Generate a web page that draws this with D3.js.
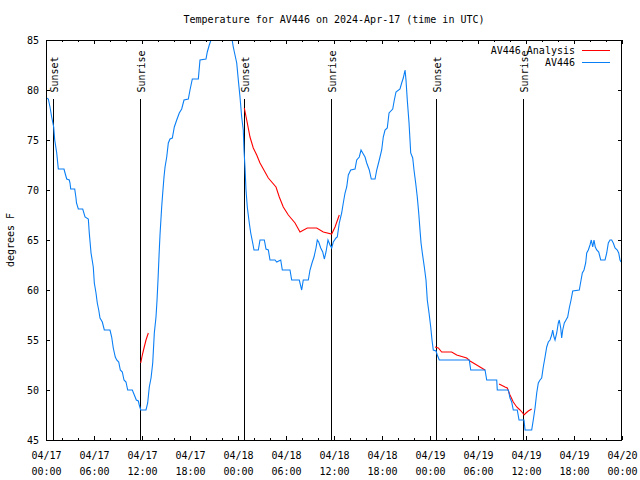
<!DOCTYPE html>
<html><head><meta charset="utf-8">
<script src="https://cdn.jsdelivr.net/npm/d3@7"></script>
<style>
body{margin:0;background:#fff}
svg text{font-family:"DejaVu Sans Mono","Liberation Mono",monospace;font-size:10px;fill:#000}
</style>
</head><body>
<svg id="chart" width="640" height="480"></svg>
<script>
// ---------- data ----------
const chartTitle = "Temperature for AV446 on 2024-Apr-17 (time in UTC)";
const yAxisLabel = "degrees F";
const startUTC = Date.UTC(2024, 3, 17, 0, 0);   // 04/17 00:00 UTC
const spanHours = 72;

// AV446 observations: hours since start, degrees F
const obsHours = [0.06,0.29,0.5,0.71,0.96,1.09,1.34,1.54,2.25,2.38,2.59,2.91,3.0,3.09,3.59,3.75,3.81,4.04,4.59,4.88,5.29,5.41,5.63,5.91,6.04,6.25,6.41,6.59,6.75,7.04,7.29,8.0,8.21,8.41,8.66,8.84,9.09,9.29,9.54,9.75,10.0,10.21,10.79,11.04,11.29,11.54,11.66,11.84,12.5,12.71,12.91,13.13,13.34,13.54,13.75,13.88,14.0,14.16,14.25,14.46,14.59,14.75,14.88,15.09,15.29,15.5,15.79,16.04,16.34,16.66,16.96,17.25,17.79,18.0,18.29,19.04,19.25,20.0,20.16,20.41,20.71,21.25,22.0,22.75,23.21,23.41,23.84,24.04,24.25,24.46,24.66,24.75,24.88,25.0,25.16,25.41,25.59,25.84,26.0,26.54,26.75,27.29,27.5,27.79,28.0,28.63,28.84,29.34,29.54,30.5,30.71,31.66,31.96,32.16,32.79,33.0,33.25,33.5,33.75,33.91,34.09,34.34,34.59,34.79,35.0,35.25,35.5,35.71,35.91,36.25,36.41,36.66,36.96,37.16,37.38,37.59,37.79,38.09,38.63,38.84,39.16,39.38,39.59,39.88,40.09,40.41,40.66,41.13,41.34,41.66,41.96,42.16,42.38,42.66,42.88,43.34,43.54,43.75,44.25,44.46,44.66,44.88,45.0,45.16,45.38,45.5,45.59,45.84,46.0,46.21,46.41,46.59,46.75,46.88,47.04,47.29,47.5,47.66,47.88,48.09,48.25,48.41,48.75,48.91,49.16,52.91,53.09,54.88,55.09,56.34,56.41,57.79,58.0,58.21,58.41,58.91,59.13,59.75,59.88,60.71,60.91,61.13,61.34,61.54,61.75,61.96,62.16,62.38,62.59,62.79,63.0,63.21,63.34,63.5,63.63,63.84,64.04,64.16,64.34,64.46,64.59,64.79,65.0,65.21,65.41,65.63,65.84,66.66,66.84,67.04,67.25,67.46,67.59,67.79,68.0,68.16,68.34,68.5,68.66,68.84,69.09,69.34,69.88,70.09,70.29,70.5,70.71,70.91,71.13,71.41,71.59,71.75,71.88];
const obsTemps = [79.2,79.1,78.3,77.3,76.3,75,73.7,72.1,72.1,71.7,71.1,71,70.7,70.1,70.1,69.2,68.7,68.1,68.1,67.3,67.1,65.7,63.7,62.3,60.7,59.7,58.7,58,57.2,56.8,56,56,55.3,54.2,53.3,53,52.8,52,51.8,51,50.8,50,50,49.5,49,48.9,48.5,48,48,48.7,50.3,51.2,52.7,55.7,57.3,59,61,64,65.5,68.3,69.7,71.3,72.3,73.3,74.7,75.1,75.2,76.3,77,77.7,78.1,79,79.1,80,81.1,81.1,83,83.1,83.8,84.5,85.2,86.2,86.6,86.2,85.3,84.3,82.7,81,79.3,77.3,76,74,72.2,70,68.3,66.7,65.7,64.7,64,64,65,65,64.1,64,63,63,62.8,63,62,62,61,61,60,61,61,62,62.7,63.3,64.2,65,64.8,64.2,63.8,63.1,63.8,65,64.5,64.2,64.8,65.2,65.3,66.7,67.7,68.7,69.7,70.3,71.5,72,72.1,73,73.3,74,73.7,73.3,72.7,72,71.1,71.1,72,73,74,75.3,76,76.2,77.7,78.1,79,79.8,80.1,80.7,81.2,82,81,79,76.7,75,73.7,73.2,72,70.7,69.3,67.7,66,64.7,63.7,62.3,61,59,57.7,56.3,55,54,53.9,53.5,53,53,52,52,51,51,50,50,49.2,48.8,48,48,47,47,46,46,47,48.2,49.7,50.7,51,51.2,52.3,53.3,54.3,54.8,55,55.5,56,55.3,55,55.7,56.7,57,56.2,55.2,56,56.7,57,57.3,58.2,59,59.9,60,60.8,61.7,62,62.7,63.7,64,64.5,65,64.3,65,64.3,64,63.8,63,63,63.7,64.7,65,65,64.7,64.2,64,63.7,63,62.8];

// AV446 Analysis: hours since start, degrees F (null = gap)
const anaHours = [11.84,12.04,12.25,12.5,12.79,null,24.79,25.09,25.5,25.91,26.34,26.75,27.79,28.75,29.16,29.66,30.29,31.13,31.75,32.66,33.84,34.66,35.71,36.13,36.66,null,48.63,49.04,49.46,50.71,51.34,52.59,53.0,53.63,54.25,54.88,null,56.63,57.38,57.66,58.0,58.41,58.84,59.25,59.59,59.75,60.0,60.29,60.71];
const anaTemps = [52.7,53.5,54.2,55,55.7,null,78.2,77,75.3,74.2,73.5,72.7,71.2,70.3,69.3,68.3,67.5,66.7,65.8,66.2,66.2,65.8,65.6,66.3,67.5,null,54.3,54.2,53.8,53.8,53.5,53.2,52.9,52.6,52.3,52,null,50.6,50.3,50.2,49.5,48.8,48.3,48,47.7,47.5,47.7,47.9,48.1];

// Sun events
const sunHours  = [0.91, 11.81, 24.79, 35.66, 48.75, 59.66];
const sunLabels = ["Sunset","Sunrise","Sunset","Sunrise","Sunset","Sunrise"];

// Ticks
const yTicks = [45,50,55,60,65,70,75,80,85];
const xMajorHours = [0,6,12,18,24,30,36,42,48,54,60,66,72];
const xMinorHours = [2,4,8,10,14,16,20,22,26,28,32,34,38,40,44,46,50,52,56,58,62,64,68,70];

const seriesNames = ["AV446 Analysis","AV446"];
const seriesColors = ["#ff0000","#0a7ff5"];

// ---------- layout ----------
const L = 46, R = 622, T = 40, B = 440;
const svg = d3.select("#chart");

const x = d3.scaleLinear().domain([0, spanHours]).range([L, R]);
const y = d3.scaleLinear().domain([45, 85]).range([B, T]);

svg.append("defs").append("clipPath").attr("id","plotclip")
  .append("rect").attr("x",L).attr("y",T).attr("width",R-L).attr("height",B-T);

svg.append("text").attr("x", 334).attr("y", 23).attr("text-anchor","middle").text(chartTitle);
svg.append("text").attr("transform","translate(14,240) rotate(-90)").attr("text-anchor","middle").text(yAxisLabel);

const fmtDate = d3.utcFormat("%m/%d"), fmtTime = d3.utcFormat("%H:%M");
const toDate = h => new Date(startUTC + h*3600e3);

function clean(g){
  g.attr("font-family",null).attr("font-size",null);
  g.select(".domain").remove();
  g.selectAll("line").attr("shape-rendering","crispEdges").attr("stroke","#000");
  return g;
}

const gxb = clean(svg.append("g").attr("transform",`translate(0,${B})`)
  .call(d3.axisBottom(x).tickValues(xMajorHours).tickSizeInner(-4).tickSizeOuter(0).tickFormat("")));
gxb.selectAll(".tick text").remove();
gxb.selectAll(".tick").append("text").attr("y", 19).attr("text-anchor","middle")
  .each(function(h){
    const t = d3.select(this);
    t.append("tspan").attr("x",0).text(fmtDate(toDate(h)));
    t.append("tspan").attr("x",0).attr("dy",16).text(fmtTime(toDate(h)));
  });
clean(svg.append("g").attr("transform",`translate(0,${B})`)
  .call(d3.axisBottom(x).tickValues(xMinorHours).tickSizeInner(-2).tickSizeOuter(0).tickFormat("")));
clean(svg.append("g").attr("transform",`translate(0,${T})`)
  .call(d3.axisTop(x).tickValues(xMajorHours).tickSizeInner(-4).tickSizeOuter(0).tickFormat("")));
clean(svg.append("g").attr("transform",`translate(0,${T})`)
  .call(d3.axisTop(x).tickValues(xMinorHours).tickSizeInner(-2).tickSizeOuter(0).tickFormat("")));

const gyl = clean(svg.append("g").attr("transform",`translate(${L},0)`)
  .call(d3.axisLeft(y).tickValues(yTicks).tickSizeInner(-4).tickSizeOuter(0).tickPadding(7)));
gyl.selectAll("text").attr("dy","0.35em");
clean(svg.append("g").attr("transform",`translate(${R},0)`)
  .call(d3.axisRight(y).tickValues(yTicks).tickSizeInner(-4).tickSizeOuter(0).tickFormat("")));

// sun event lines + labels
const sun = svg.append("g");
sunHours.forEach((h,i)=>{
  const xp = Math.round(x(h)) + 0.5;
  sun.append("line").attr("x1",xp).attr("x2",xp).attr("y1",99).attr("y2",B)
    .attr("stroke","#000").attr("stroke-width",1).attr("shape-rendering","crispEdges");
  sun.append("text").attr("transform",`translate(${xp+4.5},92.5) rotate(-90)`)
    .attr("text-anchor","start").text(sunLabels[i]);
});

// data lines
const plot = svg.append("g").attr("clip-path","url(#plotclip)");
const anaData = anaHours.map((h,i)=>({h, t: anaTemps[i]}));
const obsData = obsHours.map((h,i)=>({h, t: obsTemps[i]}));
const line = d3.line().defined(d=>d.h!==null && d.t!==null).x(d=>x(d.h)).y(d=>y(d.t));
plot.append("path").datum(anaData).attr("d",line).attr("fill","none")
  .attr("stroke",seriesColors[0]).attr("stroke-width",1.1);
plot.append("path").datum(obsData).attr("d",line).attr("fill","none")
  .attr("stroke",seriesColors[1]).attr("stroke-width",1.1);

// border
svg.append("rect").attr("x",L+0.5).attr("y",T+0.5).attr("width",R-L-1).attr("height",B-T)
  .attr("fill","none").attr("stroke","#000").attr("shape-rendering","crispEdges");

// legend
const leg = svg.append("g");
seriesNames.forEach((n,i)=>{
  const yy = 50 + i*12;
  leg.append("text").attr("x",575).attr("y",yy+4).attr("text-anchor","end").text(n);
  leg.append("line").attr("x1",582).attr("x2",610).attr("y1",yy+0.5).attr("y2",yy+0.5)
    .attr("stroke",seriesColors[i]).attr("stroke-width",1).attr("shape-rendering","crispEdges");
});
</script>
</body></html>
